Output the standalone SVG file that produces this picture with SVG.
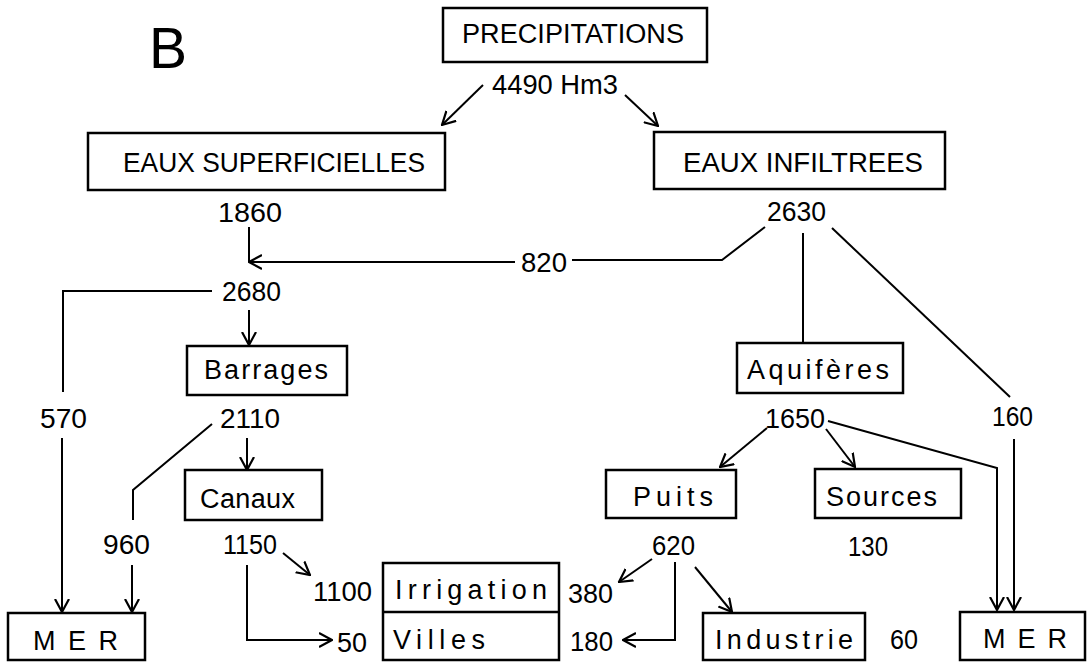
<svg xmlns="http://www.w3.org/2000/svg" width="1091" height="662" viewBox="0 0 1091 662">
<style>
.box{fill:none;stroke:#000;stroke-width:2.5}
.ln{fill:none;stroke:#000;stroke-width:2}
.ar{marker-end:url(#arr)}
text{font-family:"Liberation Sans",Arial,sans-serif;font-size:27px;fill:#000}
.big{font-size:57px}
</style>
<defs>
<marker id="arr" viewBox="0 0 14 16" refX="13" refY="8" markerWidth="14" markerHeight="16" markerUnits="userSpaceOnUse" orient="auto">
<path d="M0,1 L13,8 L0,15" fill="none" stroke="#000" stroke-width="2.2"/>
</marker>
</defs>
<rect width="1091" height="662" fill="#fff"/>
<text class="big" x="149" y="68">B</text>

<g id="precipitations"><rect class="box" x="443" y="8" width="264" height="54"/><text x="462" y="43" textLength="222" lengthAdjust="spacingAndGlyphs">PRECIPITATIONS</text><text x="492" y="94" textLength="126" lengthAdjust="spacingAndGlyphs">4490 Hm3</text></g>
<g id="eaux-superficielles"><rect class="box" x="88" y="133" width="357" height="57"/><text x="123" y="172" textLength="302" lengthAdjust="spacingAndGlyphs">EAUX SUPERFICIELLES</text><text x="218" y="222" textLength="64" lengthAdjust="spacingAndGlyphs">1860</text></g>
<g id="eaux-infiltrees"><rect class="box" x="654" y="132" width="291" height="57"/><text x="683" y="172" textLength="240" lengthAdjust="spacingAndGlyphs">EAUX INFILTREES</text><text x="767" y="221" textLength="59" lengthAdjust="spacingAndGlyphs">2630</text></g>
<g id="n820"><text x="521" y="272" textLength="46" lengthAdjust="spacingAndGlyphs">820</text></g>
<g id="n2680"><text x="222" y="301" textLength="59" lengthAdjust="spacingAndGlyphs">2680</text></g>
<g id="barrages"><rect class="box" x="187" y="346" width="160" height="49"/><text x="204" y="379" textLength="124" lengthAdjust="spacing">Barrages</text><text x="220" y="428" textLength="60" lengthAdjust="spacingAndGlyphs">2110</text></g>
<g id="n570"><text x="40" y="428" textLength="47" lengthAdjust="spacingAndGlyphs">570</text></g>
<g id="n960"><text x="103" y="554" textLength="47" lengthAdjust="spacingAndGlyphs">960</text></g>
<g id="canaux"><rect class="box" x="185" y="470" width="137" height="50"/><text x="200" y="508" textLength="95" lengthAdjust="spacing">Canaux</text><text x="223" y="554" textLength="54" lengthAdjust="spacingAndGlyphs">1150</text></g>
<g id="mer-left"><rect class="box" x="8" y="613" width="137" height="47"/><text x="33" y="650" textLength="85" lengthAdjust="spacing">M E R</text></g>
<g id="irrigation-villes"><rect class="box" x="383" y="563" width="176" height="97"/><line class="box" x1="383" y1="612" x2="559" y2="612"/><text x="395" y="599" textLength="152" lengthAdjust="spacing">Irrigation</text><text x="393" y="649" textLength="92" lengthAdjust="spacing">Villes</text><text x="313" y="601" textLength="59" lengthAdjust="spacingAndGlyphs">1100</text><text x="337" y="652" textLength="30" lengthAdjust="spacingAndGlyphs">50</text><text x="568" y="603" textLength="45" lengthAdjust="spacingAndGlyphs">380</text><text x="570" y="651" textLength="43" lengthAdjust="spacingAndGlyphs">180</text></g>
<g id="aquiferes"><rect class="box" x="737" y="343" width="166" height="50"/><text x="747" y="379" textLength="142" lengthAdjust="spacing">Aquifères</text><text x="765" y="428" textLength="60" lengthAdjust="spacingAndGlyphs">1650</text></g>
<g id="n160"><text x="992" y="426" textLength="41" lengthAdjust="spacingAndGlyphs">160</text></g>
<g id="puits"><rect class="box" x="606" y="470" width="130" height="48"/><text x="633" y="506" textLength="80" lengthAdjust="spacing">Puits</text><text x="652" y="555" textLength="43" lengthAdjust="spacingAndGlyphs">620</text></g>
<g id="sources"><rect class="box" x="815" y="469" width="146" height="49"/><text x="826" y="506" textLength="111" lengthAdjust="spacing">Sources</text><text x="848" y="556" textLength="40" lengthAdjust="spacingAndGlyphs">130</text></g>
<g id="industrie"><rect class="box" x="703" y="613" width="162" height="47"/><text x="715" y="649" textLength="138" lengthAdjust="spacing">Industrie</text><text x="890" y="649" textLength="28" lengthAdjust="spacingAndGlyphs">60</text></g>
<g id="mer-right"><rect class="box" x="960" y="612" width="125" height="48"/><text x="983" y="648" textLength="84" lengthAdjust="spacing">M E R</text></g>

<g id="connectors">
<line class="ln ar" x1="483" y1="85" x2="442" y2="125"/>
<line class="ln ar" x1="625" y1="95" x2="658" y2="126"/>
<line class="ln" x1="249" y1="227" x2="249" y2="262"/>
<line class="ln ar" x1="515" y1="262" x2="249" y2="262"/>
<polyline class="ln" points="572,260 722,260 765,227"/>
<line class="ln" x1="803" y1="233" x2="803" y2="343"/>
<line class="ln" x1="832" y1="228" x2="1010" y2="397"/>
<polyline class="ln" points="212,291 63,291 63,392"/>
<line class="ln ar" x1="249" y1="310" x2="249" y2="345"/>
<line class="ln ar" x1="62" y1="438" x2="62" y2="612"/>
<polyline class="ln" points="212,424 133,490 133,520"/>
<line class="ln ar" x1="132" y1="565" x2="132" y2="612"/>
<line class="ln ar" x1="247" y1="438" x2="247" y2="470"/>
<line class="ln ar" x1="283" y1="553" x2="310" y2="575"/>
<polyline class="ln ar" points="247,565 247,640 332,640"/>
<line class="ln ar" x1="767" y1="428" x2="720" y2="467"/>
<line class="ln ar" x1="826" y1="429" x2="855" y2="467"/>
<polyline class="ln ar" points="828,421 997,468 997,610"/>
<line class="ln ar" x1="1014" y1="439" x2="1014" y2="610"/>
<line class="ln ar" x1="652" y1="559" x2="619" y2="582"/>
<polyline class="ln ar" points="675,562 675,640 623,640"/>
<line class="ln ar" x1="695" y1="567" x2="732" y2="612"/>
</g>
</svg>
